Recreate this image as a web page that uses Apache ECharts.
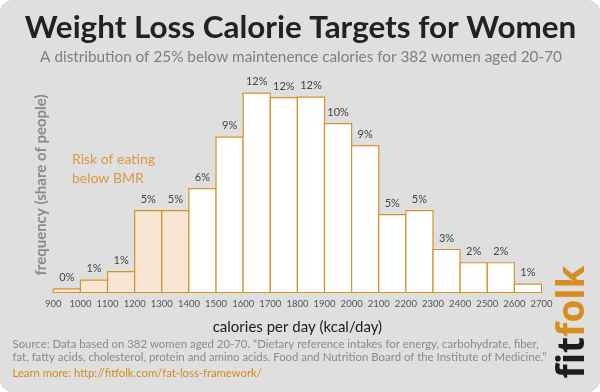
<!DOCTYPE html>
<html>
<head>
<meta charset="utf-8">
<script src="https://cdn.jsdelivr.net/npm/echarts@6/dist/echarts.min.js"></script>
<style>
html,body{margin:0;padding:0;background:#ffffff;}
#chart{width:600px;height:392px;}
</style>
</head>
<body>
<div id="chart"></div>
<script>
// ---- data ----
const binStarts = [900,1000,1100,1200,1300,1400,1500,1600,1700,1800,1900,2000,2100,2200,2300,2400,2500,2600];
const binWidth = 100;
const shares = [0.22,0.75,1.26,4.93,4.93,6.26,9.35,12.0,11.73,11.76,10.17,8.85,4.69,4.93,2.59,1.79,1.79,0.5];
const shareLabels = ['0%','1%','1%','5%','5%','6%','9%','12%','12%','12%','10%','9%','5%','5%','3%','2%','2%','1%'];
const bmrLimit = 1400;
const xMin = 900, xMax = 2700, xStep = 100;

const titleText = 'Weight Loss Calorie Targets for Women';
const subtitleText = 'A distribution of 25% below maintenence calories for 382 women aged 20-70';
const yAxisTitle = 'frequency (share of people)';
const xAxisTitle = 'calories per day (kcal/day)';
const riskText = 'Risk of eating\nbelow BMR';
const sourceLine1 = 'Source: Data based on 382 women aged 20-70. \u201cDietary reference intakes for energy, carbohydrate, fiber,';
const sourceLine2 = 'fat, fatty acids, cholesterol, protein and amino acids. Food and Nutrition Board of the Institute of Medicine.\u201d';
const learnMore = 'Learn more: http://fitfolk.com/fat-loss-framework/';

const orange = '#d8912a';
const seriesData = binStarts.map((s, i) => [s, s + binWidth, shares[i], i]);

const chart = echarts.init(document.getElementById('chart'), null, {renderer: 'canvas'});
chart.setOption({
  backgroundColor: '#ffffff',
  animation: false,
  grid: {left: 53.3, right: 58.5, top: 60, bottom: 99.5},
  xAxis: {
    type: 'value', min: xMin, max: xMax, interval: xStep,
    name: xAxisTitle, nameLocation: 'middle', nameGap: 27,
    nameTextStyle: {fontFamily: 'Lato', fontSize: 15, color: '#1a1a1a'},
    axisLine: {show: false}, axisTick: {show: false}, splitLine: {show: false},
    axisLabel: {fontFamily: 'Lato', fontSize: 9.5, color: '#555555', margin: 6,
      formatter: function (v) { return String(v); }}
  },
  yAxis: {
    type: 'value', min: 0, max: 14, show: false
  },
  series: [{
    type: 'custom',
    data: seriesData,
    encode: {x: [0, 1], y: 2},
    z: 5,
    renderItem: function (params, api) {
      const s = api.value(0), e = api.value(1), v = api.value(2), idx = api.value(3);
      const p1 = api.coord([s, v]);
      const p2 = api.coord([e, 0]);
      const fill = e <= bmrLimit ? '#f6e6d3' : '#ffffff';
      return {
        type: 'group',
        children: [
          {type: 'rect', shape: {x: p1[0], y: p1[1], width: p2[0] - p1[0], height: p2[1] - p1[1]},
           style: {fill: fill, stroke: orange, lineWidth: 1.2}},
          {type: 'text', style: {text: shareLabels[idx], x: (p1[0] + p2[0]) / 2, y: p1[1] - 11.5,
            align: 'center', verticalAlign: 'middle', fill: '#444444', font: '11px Lato'}}
        ]
      };
    }
  }],
  graphic: [
    {type: 'rect', z: -10, shape: {x: 0, y: 0, width: 600, height: 392, r: 12}, style: {fill: '#dfdfdf'}},
    {type: 'text', z: 10, style: {text: titleText, x: 300.5, y: 27.5, align: 'center', verticalAlign: 'middle',
      font: 'bold 31.4px Lato', fill: '#222222'}},
    {type: 'text', z: 10, style: {text: subtitleText, x: 301, y: 57.5, align: 'center', verticalAlign: 'middle',
      font: '15.3px Lato', fill: '#7f7f7f'}},
    {type: 'text', z: 10, x: 41, y: 185, rotation: Math.PI / 2,
      style: {text: yAxisTitle, x: 0, y: 0, align: 'center', verticalAlign: 'middle',
      font: 'bold 15px Lato', fill: '#8a8a8a'}},
    {type: 'text', z: 10, style: {text: riskText, x: 72, y: 168.5, align: 'left', verticalAlign: 'middle',
      font: '14px Lato', fill: '#db9840', lineHeight: 19}},
    {type: 'text', z: 10, style: {text: sourceLine1, x: 12.5, y: 344, align: 'left', verticalAlign: 'middle',
      font: '11.4px Lato', fill: '#8a8a8a'}},
    {type: 'text', z: 10, style: {text: sourceLine2, x: 12.5, y: 357, align: 'left', verticalAlign: 'middle',
      font: '11.4px Lato', fill: '#8a8a8a'}},
    {type: 'text', z: 10, style: {text: learnMore, x: 12.5, y: 373.5, align: 'left', verticalAlign: 'middle',
      font: '11.3px Lato', fill: '#d58b1c'}},
    {type: 'text', z: 10, x: 573, y: 322, rotation: Math.PI / 2,
      style: {text: '{a|fit}{b|folk}', align: 'center', verticalAlign: 'middle',
        rich: {
          a: {fontFamily: 'Open Sans', fontWeight: 'bold', fontSize: 37, fill: '#1c1c1c'},
          b: {fontFamily: 'Open Sans', fontWeight: 'bold', fontSize: 37, fill: '#d88e1f'}
        }}}
  ]
});
</script>
</body>
</html>
